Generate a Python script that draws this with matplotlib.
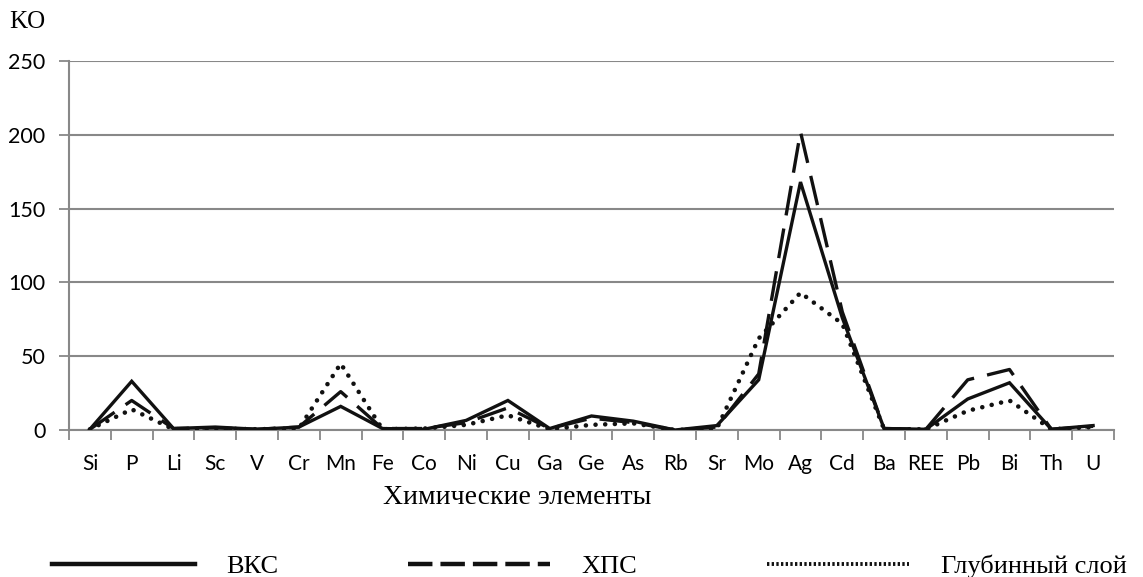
import numpy as np
import matplotlib.pyplot as plt
from matplotlib.lines import Line2D

# данные (КО по элементам)
elements = ['Si', 'P', 'Li', 'Sc', 'V', 'Cr', 'Mn', 'Fe', 'Co', 'Ni', 'Cu', 'Ga', 'Ge',
            'As', 'Rb', 'Sr', 'Mo', 'Ag', 'Cd', 'Ba', 'REE', 'Pb', 'Bi', 'Th', 'U']
vks = [0.5, 33, 1, 2, 0.5, 2, 16, 1, 0.5, 6.5, 20, 1, 9.5, 6, 0, 3, 34, 168, 76, 1, 0.5, 21, 32, 0.5, 3]
hps = [0.5, 20, 1, 1.5, 0.5, 2, 26, 1, 1, 5, 15, 1, 8, 5, 0, 2, 38, 202, 80, 1, 0.5, 34, 41, 0.5, 2.5]
glub = [0.5, 14, 0.5, 1, 0.5, 1, 45, 0.5, 1, 3.5, 10, 0.5, 3.5, 4.5, 0, 1, 62, 93, 72, 0.5, 0.5, 13, 20, 0.5, 2]
yticks = [0, 50, 100, 150, 200, 250]

serif = 'Liberation Serif'
sans = 'Lato'

fig = plt.figure(figsize=(11.43, 5.77), dpi=100)
ax = fig.add_axes([69 / 1143, 1 - 430 / 577, (1114 - 69) / 1143, (430 - 61) / 577])

x = np.arange(len(elements))
ax.plot(x, vks, color='#111111', lw=2.4, solid_joinstyle='miter', label='ВКС', zorder=3)
ax.plot(x, hps, color='#111111', lw=2.4, linestyle=(0, (9, 4)), label='ХПС', zorder=3)
ax.plot(x, glub, color='#111111', lw=3.3, linestyle=(0, (0.01, 2.1)),
        dash_capstyle='round', label='Глубинный слой', zorder=3)

ax.set_xlim(-0.5, len(elements) - 0.5)
ax.set_ylim(0, 250)
ax.set_yticks(yticks)
ax.set_yticklabels([str(v) for v in yticks], fontsize=15.5, family=sans)
ax.set_xticks(x)
ax.set_xticklabels(elements, fontsize=15, family=sans)
ax.set_xticks(np.arange(-0.5, len(elements)), minor=True)
ax.tick_params(axis='x', which='major', length=0, pad=17)
ax.tick_params(axis='x', which='minor', length=7, width=1.3, color='#888888')
ax.tick_params(axis='y', length=7, width=1.3, color='#888888', pad=10)
ax.yaxis.grid(True, color='#888888', lw=1.5)
ax.set_axisbelow(True)
for s in ['top', 'right']:
    ax.spines[s].set_visible(False)
for s in ['left', 'bottom']:
    ax.spines[s].set_color('#888888')
    ax.spines[s].set_linewidth(1.5)

fig.text(9 / 1143, 1 - 22 / 577, 'KO', family=serif, fontsize=18, va='center', ha='left')
fig.text(517 / 1143, 1 - 497 / 577, 'Химические элементы', family=serif, fontsize=20,
         va='center', ha='center')

handles = [Line2D([], [], color='#111111', lw=3.2),
           Line2D([], [], color='#111111', lw=3.2, linestyle=(0, (5.5, 1.8))),
           Line2D([], [], color='#111111', lw=2.8, linestyle=(0, (0.6, 0.6)))]
fig.legend(handles, ['ВКС', 'ХПС', 'Глубинный слой'], loc='center',
           bbox_to_anchor=(0.5 + 18 / 1143, 1 - 566 / 577), ncol=3, frameon=False,
           prop={'family': serif, 'size': 19}, handlelength=5.4,
           handletextpad=1.2, columnspacing=4.9)

fig.savefig('out.png', dpi=100)
